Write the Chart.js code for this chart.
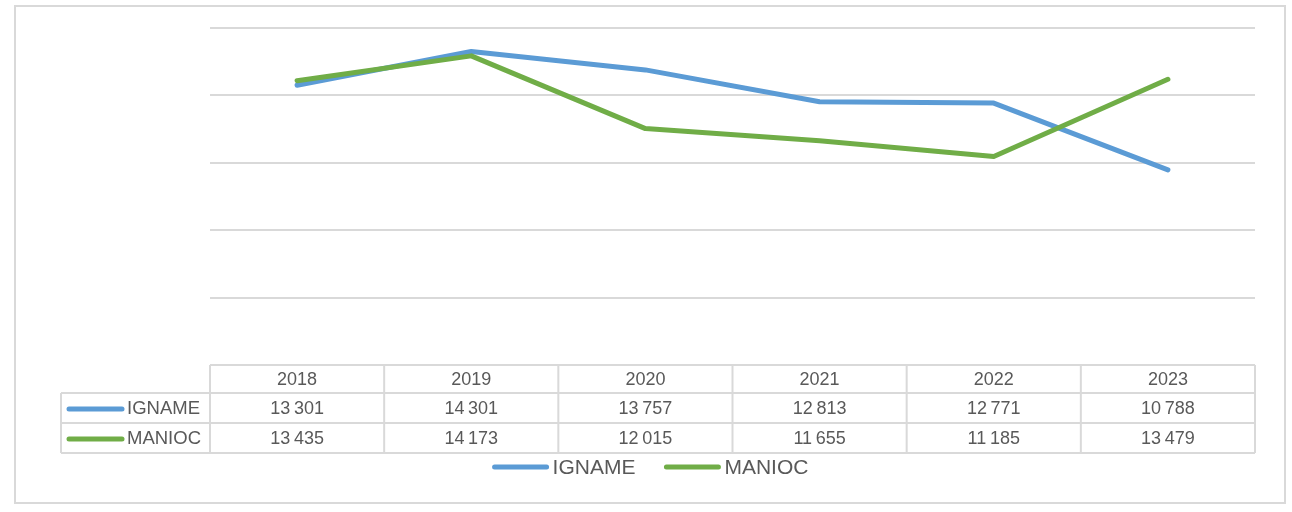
<!DOCTYPE html>
<html>
<head>
<meta charset="utf-8">
<script src="https://cdn.jsdelivr.net/npm/chart.js@4/dist/chart.umd.min.js"></script>
<style>
html,body{margin:0;padding:0;background:#fff;}
#wrap{position:relative;width:1292px;height:512px;}
</style>
</head>
<body>
<div id="wrap"><canvas id="c" width="1292" height="512"></canvas></div>
<script>
const categories = ['2018','2019','2020','2021','2022','2023'];
const igname = [13301, 14301, 13757, 12813, 12771, 10788];
const manioc = [13435, 14173, 12015, 11655, 11185, 13479];
const seriesNames = ['IGNAME','MANIOC'];
const seriesColors = ['#5B9BD5','#70AD47'];
const yTicks = [5000, 7000, 9000, 11000, 13000, 15000];

const TEXT = '#595959';
const GRIDC = '#d9d9d9';
const FONT = '"Liberation Sans", Arial, sans-serif';

function fmt(v){
  const s = String(v);
  return s.length > 3 ? s.slice(0, s.length-3) + '\u2009' + s.slice(s.length-3) : s;
}

const tablePlugin = {
  id: 'tablePlugin',
  beforeDraw(chart){
    const ctx = chart.ctx;
    ctx.save();
    ctx.fillStyle = '#fff';
    ctx.fillRect(0,0,chart.width,chart.height);
    ctx.strokeStyle = '#d9d9d9';
    ctx.lineWidth = 2;
    ctx.strokeRect(15, 6, 1270, 497);
    ctx.restore();
  },
  afterDraw(chart){
    const ctx = chart.ctx;
    const xs = chart.scales.x;
    const area = chart.chartArea;
    const n = categories.length;
    const colW = (area.right - area.left) / n;
    const edges = [];
    for (let i = 0; i < n; i++) edges.push(xs.getPixelForValue(i) - colW/2);
    edges.push(xs.getPixelForValue(n-1) + colW/2);
    const top = area.bottom;
    const rowH = [28, 30, 30];
    const rows = [top, top+rowH[0], top+rowH[0]+rowH[1], top+rowH[0]+rowH[1]+rowH[2]];
    const labelLeft = 61;
    ctx.save();
    ctx.strokeStyle = GRIDC;
    ctx.lineWidth = 2;
    ctx.beginPath();
    ctx.moveTo(edges[0], rows[0]); ctx.lineTo(edges[n], rows[0]);
    for (let r = 1; r < rows.length; r++){
      ctx.moveTo(labelLeft, rows[r]); ctx.lineTo(edges[n], rows[r]);
    }
    for (let i = 0; i <= n; i++){
      ctx.moveTo(edges[i], rows[0]); ctx.lineTo(edges[i], rows[3]);
    }
    ctx.moveTo(labelLeft, rows[1]); ctx.lineTo(labelLeft, rows[3]);
    ctx.stroke();

    ctx.fillStyle = TEXT;
    ctx.font = '18px ' + FONT;
    ctx.textAlign = 'center';
    ctx.textBaseline = 'middle';
    categories.forEach((c,i)=>{
      ctx.fillText(c, xs.getPixelForValue(i), (rows[0]+rows[1])/2 + 1);
    });
    const series = [igname, manioc];
    series.forEach((arr, s)=>{
      const cy = (rows[s+1]+rows[s+2])/2 + 1;
      arr.forEach((v,i)=>{
        ctx.fillText(fmt(v), xs.getPixelForValue(i), cy);
      });
      ctx.lineCap = 'round';
      ctx.lineWidth = 5;
      ctx.strokeStyle = seriesColors[s];
      ctx.beginPath();
      ctx.moveTo(69, cy); ctx.lineTo(122, cy);
      ctx.stroke();
      ctx.textAlign = 'left';
      ctx.font = '18.5px ' + FONT;
      ctx.fillText(seriesNames[s], 127, cy);
      ctx.font = '18px ' + FONT;
      ctx.textAlign = 'center';
    });

    // legend
    const ly = 467;
    ctx.font = '21px ' + FONT;
    ctx.textAlign = 'left';
    const keyW = 58, gap = 3, itemGap = 28;
    const widths = seriesNames.map(t => keyW + gap + ctx.measureText(t).width);
    const total = widths.reduce((a,b)=>a+b,0) + itemGap;
    let x = 650 - total/2;
    seriesNames.forEach((t,s)=>{
      ctx.lineCap = 'round';
      ctx.lineWidth = 5;
      ctx.strokeStyle = seriesColors[s];
      ctx.beginPath();
      ctx.moveTo(x+3, ly); ctx.lineTo(x+keyW-3, ly);
      ctx.stroke();
      ctx.fillText(t, x + keyW + gap, ly + 1);
      x += widths[s] + itemGap;
    });
    ctx.restore();
  }
};

new Chart(document.getElementById('c'), {
  type: 'line',
  data: {
    labels: categories,
    datasets: [
      { label: seriesNames[0], data: igname, borderColor: seriesColors[0], backgroundColor: seriesColors[0], borderWidth: 5, pointRadius: 0, tension: 0, order: 1, borderCapStyle: 'round', borderJoinStyle: 'round' },
      { label: seriesNames[1], data: manioc, borderColor: seriesColors[1], backgroundColor: seriesColors[1], borderWidth: 5, pointRadius: 0, tension: 0, order: 0, borderCapStyle: 'round', borderJoinStyle: 'round' }
    ]
  },
  options: {
    responsive: false,
    animation: false,
    devicePixelRatio: 1,
    layout: { padding: { left: 210, right: 37, top: 28, bottom: 147 } },
    plugins: { legend: { display: false }, tooltip: { enabled: false } },
    scales: {
      x: {
        display: true,
        offset: true,
        grid: { display: false, drawTicks: false },
        border: { display: false },
        ticks: { display: false }
      },
      y: {
        min: yTicks[0], max: yTicks[yTicks.length-1],
        afterBuildTicks: (axis) => { axis.ticks = yTicks.map(v => ({ value: v })); },
        grid: { color: GRIDC, lineWidth: 2, drawTicks: false },
        border: { display: false },
        ticks: { display: false }
      }
    }
  },
  plugins: [tablePlugin]
});
</script>
</body>
</html>
